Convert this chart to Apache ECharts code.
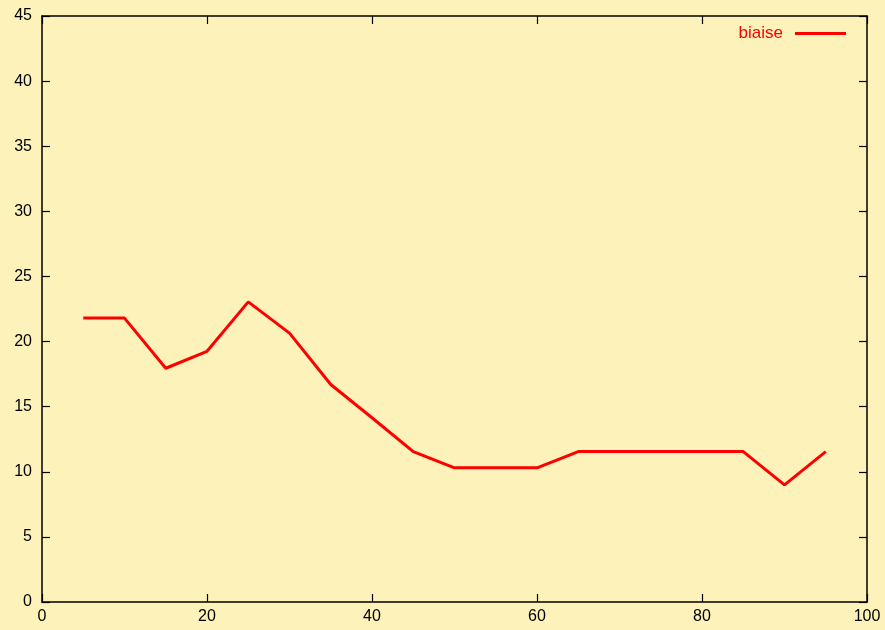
<!DOCTYPE html>
<html><head><meta charset="utf-8">
<script src="https://cdn.jsdelivr.net/npm/echarts@6/dist/echarts.min.js"></script>
<style>html,body{margin:0;padding:0;background:#fef2bb}#c{width:885px;height:630px}</style>
</head><body><div id="c"></div>
<script>
const xValues = [5,10,15,20,25,30,35,40,45,50,55,60,65,70,75,80,85,90,95];
const biaise = [21.8,21.8,17.95,19.25,23.05,20.65,16.7,14.15,11.55,10.3,10.3,10.3,11.55,11.55,11.55,11.55,11.55,9.0,11.55];
const seriesName = 'biaise';
const xTicks = [0,20,40,60,80,100];
const yTicks = [0,5,10,15,20,25,30,35,40,45];

const chart = echarts.init(document.getElementById('c'));
const font = 'Liberation Sans, Arial, sans-serif';
const axisBase = () => ({
  axisLine:{show:true,onZero:false,lineStyle:{color:'#000',width:1.5}},
  axisTick:{show:true,inside:true,length:8,lineStyle:{color:'#000',width:1.2}},
  splitLine:{show:false},
});
chart.setOption({
  backgroundColor:'#fef2bb',
  animation:false,
  grid:{left:42,right:18,top:16,bottom:28,show:false},
  legend:{right:34,top:20,align:'right',icon:'rect',itemWidth:51,itemHeight:3,itemGap:10,
    textStyle:{color:'#ff0000',fontSize:17,fontFamily:font,padding:[0,7,0,0]},data:[seriesName]},
  xAxis:[
    Object.assign({type:'value',min:0,max:100,interval:20,position:'bottom',
      axisLabel:{color:'#000',fontSize:16,fontFamily:font,margin:7}},axisBase()),
    Object.assign({type:'value',min:0,max:100,interval:20,position:'top',
      axisLabel:{show:false}},axisBase())
  ],
  yAxis:[
    Object.assign({type:'value',min:0,max:45,interval:5,position:'left',
      axisLabel:{color:'#000',fontSize:16,fontFamily:font,margin:10}},axisBase()),
    Object.assign({type:'value',min:0,max:45,interval:5,position:'right',
      axisLabel:{show:false}},axisBase())
  ],
  series:[{
    name:seriesName,type:'line',xAxisIndex:0,yAxisIndex:0,
    data:xValues.map((x,i)=>[x,biaise[i]]),
    showSymbol:false,symbol:'none',
    lineStyle:{color:'#ff0000',width:3},itemStyle:{color:'#ff0000'}
  }]
});
</script></body></html>
